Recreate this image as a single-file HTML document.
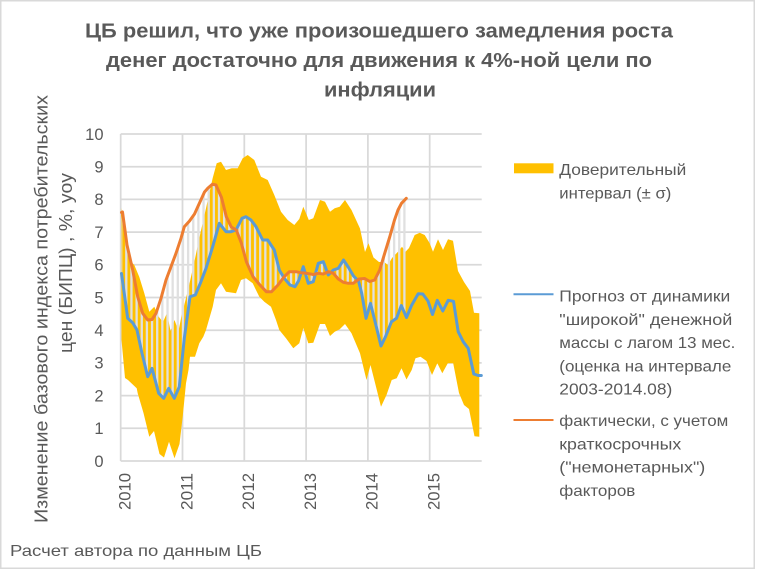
<!DOCTYPE html>
<html>
<head>
<meta charset="utf-8">
<style>
html,body{margin:0;padding:0;background:#fff;}
svg{display:block;}
text{font-family:"Liberation Sans","DejaVu Sans",sans-serif;fill:#595959;}
</style>
</head>
<body>
<svg width="757" height="570" viewBox="0 0 757 570" xmlns="http://www.w3.org/2000/svg">
<defs>
<pattern id="st" patternUnits="userSpaceOnUse" x="120" y="0" width="5.15" height="570">
<rect x="0" y="0" width="2.3" height="570" fill="#e0e0e0"/>
</pattern>
</defs>
<rect x="0" y="0" width="757" height="570" fill="#fff"/>
<rect x="0.75" y="0.75" width="753.5" height="567.5" fill="none" stroke="#d9d9d9" stroke-width="1.5"/>

<!-- Title -->
<text x="379" y="37.5" text-anchor="middle" font-size="20" font-weight="bold" textLength="588" lengthAdjust="spacingAndGlyphs">ЦБ решил, что уже произошедшего замедления роста</text>
<text x="379" y="67" text-anchor="middle" font-size="20" font-weight="bold" textLength="546" lengthAdjust="spacingAndGlyphs">денег достаточно для движения к 4%-ной цели по</text>
<text x="380" y="96.7" text-anchor="middle" font-size="20" font-weight="bold" textLength="112" lengthAdjust="spacingAndGlyphs">инфляции</text>

<!-- Gridlines -->
<g stroke="#d9d9d9" stroke-width="1.75">
<line x1="120.7" y1="134" x2="481.7" y2="134"/>
<line x1="120.7" y1="166.7" x2="481.7" y2="166.7"/>
<line x1="120.7" y1="199.4" x2="481.7" y2="199.4"/>
<line x1="120.7" y1="232.1" x2="481.7" y2="232.1"/>
<line x1="120.7" y1="264.8" x2="481.7" y2="264.8"/>
<line x1="120.7" y1="297.5" x2="481.7" y2="297.5"/>
<line x1="120.7" y1="330.2" x2="481.7" y2="330.2"/>
<line x1="120.7" y1="362.9" x2="481.7" y2="362.9"/>
<line x1="120.7" y1="395.6" x2="481.7" y2="395.6"/>
<line x1="120.7" y1="428.3" x2="481.7" y2="428.3"/>
<line x1="120.7" y1="461" x2="481.7" y2="461"/>
<line x1="120.7" y1="134" x2="120.7" y2="461"/>
<line x1="182.5" y1="134" x2="182.5" y2="461"/>
<line x1="244.3" y1="134" x2="244.3" y2="461"/>
<line x1="306.1" y1="134" x2="306.1" y2="461"/>
<line x1="367.9" y1="134" x2="367.9" y2="461"/>
<line x1="429.7" y1="134" x2="429.7" y2="461"/>
</g>

<!-- Confidence band -->
<polygon fill="#FFC000" points="121,208 124,230 129.3,260 134.3,265 139.3,277 144.3,293.3 149.3,311.7 154.3,306.7 158.7,316.7 163,322 167,313 170.5,331 174.5,320 178.5,331 181.5,316 183,310 188,290 193,268 200,235 206.7,205 212.7,178 216.7,163.3 221,161.7 226,170 231.7,168.3 237.7,168.3 242.7,158.3 247.7,155 254.3,160 261,176.7 267.7,180 274.3,195 281,211.7 287.7,220 294.3,225 299.3,219 303.3,206.7 308.8,220 313.3,218.3 320,200 325,201.7 330,211.7 334.7,208.3 339.7,206.7 345,200 351.5,210 360,228.5 365,252 368.5,243.3 373.5,257.5 379,262 384,262 388,265 392,258 398,251.7 402,246.7 405.5,251.7 409,248 414.7,235 419.7,232.7 424.7,235 429.7,243.3 433,251.7 438,239.3 443,250 448,239.3 453,240.7 458,271 464,282 470,291 474,312.7 479.3,313.3 479.3,436.7 474.5,436.3 469,409 464,405 459,393 453.2,363.3 447.8,363.3 442.3,373.3 437.3,363.3 432,375 426.5,361 420.5,356.7 415.5,358.3 411.7,370 406.5,379.5 401.5,368.3 396.7,378.3 391.7,380 386.5,395 381,406.7 376,386.7 370.5,365 366.5,380 360,353.3 351.5,333.3 345,324 339.7,329.3 334.7,331.7 330,336 325,324 320,324 313.3,342.7 308.3,343.3 303.3,328 299.3,343.3 293.3,348.3 286,338.3 279.3,330 276,320 271,306.7 264.3,301.7 259.3,296.7 252.7,283.3 246,278.3 241,280 236,293.3 226,291.7 221,283.3 216,290 212.7,306.7 206,330 203.3,336.7 199.3,343.3 195,356.7 190,356.7 188.5,370 186,383.3 182.7,416.7 179.5,444 174.5,458.3 169,441.7 164,457.5 159.5,454 154,431 149.3,436.7 143.5,413 137.7,393.3 136.7,388.3 128,380 125,378 121.5,340"/>

<!-- High-low stripes between lines -->
<polygon fill="url(#st)" fill-rule="nonzero" points="121.5,212.5 122.5,212 127,245 132.7,270 137.7,296.7 142.7,313.3 147.7,320 152,319.5 156,313.3 161,298.3 166,280 171,266.7 176,253.3 181,238.3 184.3,226.7 189.5,221 194.5,214 199.5,203 204.5,192 208,188 212.5,184.2 216,185 221.5,197.5 226.3,216.7 231.3,227 236.3,230 241.3,243 246.3,261.5 253,276.7 259.5,284.5 266.3,291.7 271.5,291.7 278,285 284.3,276.7 289.3,271.7 296,271.7 301,272.7 306.7,273.3 313.3,274.5 318.3,273.3 323.3,274 328.3,271.7 333.3,273.3 338.3,279 343.3,282.3 348.3,283.3 353.3,283.3 359,279 364.7,278.5 369.7,281.5 374.7,280 379.7,270 384.7,253.3 389.7,237 394.5,220 398,210 401.5,203.3 406.3,198.3 406.3,317 401.3,305.5 396.5,318.3 391.5,321.7 385.5,336.7 381,346 376,325.5 370.5,303.3 366,318.3 361.7,293.3 358.5,281 353.5,276 348.5,267.5 343.5,260 338.3,268.3 333.3,270 328.3,275 323.3,261.7 318.3,263.3 313.3,281.7 308.3,283.3 303.3,266.7 298.5,281 295,286.7 290,285 284.3,278.3 279.3,270 274.3,250 267.7,240 262.7,240 256,226.7 251,220 246,216.7 242,218.3 236,230 231,231.7 226,231.7 219.3,223.3 212.7,246.7 206,268.3 200.3,283.3 195.3,295 190,296.7 184.3,338.3 179.3,386.7 174.3,398.3 168.7,388.3 163.7,398.3 158.7,393.3 152,368.3 147.7,376.7 142,353.3 137,330 132.7,322.7 127.7,318.3 121.5,273.5"/>

<!-- Blue line -->
<polyline fill="none" stroke="#5B9BD5" stroke-width="3" stroke-linejoin="round" stroke-linecap="round" points="121.5,273.5 127.7,318.3 132.7,322.7 137,330 142,353.3 147.7,376.7 152,368.3 158.7,393.3 163.7,398.3 168.7,388.3 174.3,398.3 179.3,386.7 184.3,338.3 190,296.7 195.3,295 200.3,283.3 206,268.3 212.7,246.7 219.3,223.3 226,231.7 231,231.7 236,230 242,218.3 246,216.7 251,220 256,226.7 262.7,240 267.7,240 274.3,250 279.3,270 284.3,278.3 290,285 295,286.7 298.5,281 303.3,266.7 308.3,283.3 313.3,281.7 318.3,263.3 323.3,261.7 328.3,275 333.3,270 338.3,268.3 343.5,260 348.5,267.5 353.5,276 358.5,281 361.7,293.3 366,318.3 370.5,303.3 376,325.5 381,346 385.5,336.7 391.5,321.7 396.5,318.3 401.3,305.5 406.5,317.5 411.5,305.5 418.2,293.8 422.8,294 428,301 432.5,314.5 437.3,300.3 442.8,311 448.2,300.3 453.5,301.3 458.2,331.7 463.2,341.7 468.2,348.3 473.8,374 478.2,375.5 481.3,375.5"/>

<!-- Orange line -->
<polyline fill="none" stroke="#ED7D31" stroke-width="3" stroke-linejoin="round" stroke-linecap="round" points="121.5,212.5 122.5,212 127,245 132.7,270 137.7,296.7 142.7,313.3 147.7,320 152,319.5 156,313.3 161,298.3 166,280 171,266.7 176,253.3 181,238.3 184.3,226.7 189.5,221 194.5,214 199.5,203 204.5,192 208,188 212.5,184.2 216,185 221.5,197.5 226.3,216.7 231.3,227 236.3,230 241.3,243 246.3,261.5 253,276.7 259.5,284.5 266.3,291.7 271.5,291.7 278,285 284.3,276.7 289.3,271.7 296,271.7 301,272.7 306.7,273.3 313.3,274.5 318.3,273.3 323.3,274 328.3,271.7 333.3,273.3 338.3,279 343.3,282.3 348.3,283.3 353.3,283.3 359,279 364.7,278.5 369.7,281.5 374.7,280 379.7,270 384.7,253.3 389.7,237 394.5,220 398,210 401.5,203.3 406.3,198.3"/>

<!-- Y tick labels -->
<g font-size="16.5" text-anchor="end">
<text x="103.5" y="139.8">10</text>
<text x="103.5" y="172.5">9</text>
<text x="103.5" y="205.2">8</text>
<text x="103.5" y="237.9">7</text>
<text x="103.5" y="270.6">6</text>
<text x="103.5" y="303.3">5</text>
<text x="103.5" y="336">4</text>
<text x="103.5" y="368.7">3</text>
<text x="103.5" y="401.4">2</text>
<text x="103.5" y="434.1">1</text>
<text x="103.5" y="466.8">0</text>
</g>

<!-- X tick labels -->
<g font-size="16.5" text-anchor="end">
<text transform="translate(130.5,473) rotate(-90)" textLength="37" lengthAdjust="spacingAndGlyphs">2010</text>
<text transform="translate(192.3,473) rotate(-90)" textLength="37" lengthAdjust="spacingAndGlyphs">2011</text>
<text transform="translate(254.1,473) rotate(-90)" textLength="37" lengthAdjust="spacingAndGlyphs">2012</text>
<text transform="translate(315.9,473) rotate(-90)" textLength="37" lengthAdjust="spacingAndGlyphs">2013</text>
<text transform="translate(377.7,473) rotate(-90)" textLength="37" lengthAdjust="spacingAndGlyphs">2014</text>
<text transform="translate(439.5,473) rotate(-90)" textLength="37" lengthAdjust="spacingAndGlyphs">2015</text>
</g>

<!-- Y axis title -->
<text transform="translate(47.5,523) rotate(-90)" font-size="18.5" textLength="428" lengthAdjust="spacingAndGlyphs">Изменение базового индекса потребительских</text>
<text transform="translate(72,353) rotate(-90)" font-size="18.5" textLength="180" lengthAdjust="spacingAndGlyphs">цен  (БИПЦ) , %, yoy</text>

<!-- Legend -->
<rect x="514" y="163.3" width="39.5" height="10" fill="#FFC000"/>
<line x1="513.5" y1="294.3" x2="553.5" y2="294.3" stroke="#5B9BD5" stroke-width="2"/>
<line x1="513.5" y1="420" x2="553.5" y2="420" stroke="#ED7D31" stroke-width="2"/>
<g font-size="16">
<text x="559.3" y="175" textLength="127" lengthAdjust="spacingAndGlyphs">Доверительный</text>
<text x="559.3" y="198.3" textLength="112" lengthAdjust="spacingAndGlyphs">интервал (± σ)</text>
<text x="559.3" y="301.5" textLength="171" lengthAdjust="spacingAndGlyphs">Прогноз от динамики</text>
<text x="559.3" y="324.8" textLength="173" lengthAdjust="spacingAndGlyphs">"широкой" денежной</text>
<text x="559.3" y="348.1" textLength="176" lengthAdjust="spacingAndGlyphs">массы с лагом 13 мес.</text>
<text x="559.3" y="371.4" textLength="172" lengthAdjust="spacingAndGlyphs">(оценка на интервале</text>
<text x="559.3" y="394.7" textLength="113" lengthAdjust="spacingAndGlyphs">2003-2014.08)</text>
<text x="559.3" y="426" textLength="169" lengthAdjust="spacingAndGlyphs">фактически, с учетом</text>
<text x="559.3" y="449.3" textLength="122" lengthAdjust="spacingAndGlyphs">краткосрочных</text>
<text x="559.3" y="472.6" textLength="146" lengthAdjust="spacingAndGlyphs">("немонетарных")</text>
<text x="559.3" y="495.9" textLength="76" lengthAdjust="spacingAndGlyphs">факторов</text>
</g>

<!-- Footer -->
<text x="10" y="556" font-size="16" textLength="252" lengthAdjust="spacingAndGlyphs">Расчет автора по данным ЦБ</text>
</svg>
</body>
</html>
